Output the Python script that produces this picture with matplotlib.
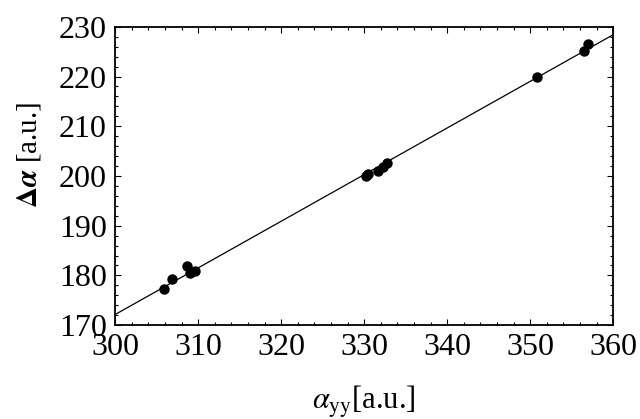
import matplotlib
matplotlib.use('Agg')
import matplotlib.pyplot as plt
import numpy as np
from matplotlib.ticker import MultipleLocator

plt.rcParams['font.family'] = ['Liberation Serif', 'DejaVu Serif']
plt.rcParams['mathtext.fontset'] = 'stix'

# measured points
alpha_yy = [305.9, 306.8, 308.7, 309.0, 309.6, 330.2, 330.5, 331.7, 332.3, 332.7, 350.8, 356.5, 357.0]
delta_alpha = [177.3, 179.2, 181.8, 180.4, 180.8, 199.9, 200.3, 201.0, 201.9, 202.7, 220.0, 225.2, 226.5]

x_ticks = [300, 310, 320, 330, 340, 350, 360]
y_ticks = [170, 180, 190, 200, 210, 220, 230]

fig = plt.figure(figsize=(6.4, 4.19), dpi=100)
ax = fig.add_axes([0.18, 0.224, 0.778, 0.712])

# linear fit through the points
slope, intercept = np.polyfit(alpha_yy, delta_alpha, 1)
xs = np.array([x_ticks[0], x_ticks[-1]])
ax.plot(xs, intercept + slope * xs, color='black', linewidth=0.9)

ax.plot(alpha_yy, delta_alpha, linestyle='none', marker='o', markersize=6.5,
        color='black')

ax.set_xlim(x_ticks[0], x_ticks[-1])
ax.set_ylim(y_ticks[0], y_ticks[-1])
ax.set_xticks(x_ticks)
ax.set_yticks(y_ticks)
ax.xaxis.set_minor_locator(MultipleLocator(2))
ax.yaxis.set_minor_locator(MultipleLocator(2))

ax.tick_params(which='both', direction='in', top=True, right=True, labelsize=23,
               width=0.8, color='black')
ax.tick_params(which='major', length=4, pad=6)
ax.tick_params(which='minor', length=2)
for sp in ax.spines.values():
    sp.set_linewidth(1.3)

ax.set_xlabel(r'$\alpha_{\rm yy}$[a.u.]', fontsize=22)
ax.set_ylabel(r'$\mathbf{\Delta}\boldsymbol{\alpha}$ [a.u.]', fontsize=21)
ax.xaxis.set_label_coords(0.5, -0.195)
ax.yaxis.set_label_coords(-0.145, 0.57)

fig.savefig('out.png', dpi=100)
